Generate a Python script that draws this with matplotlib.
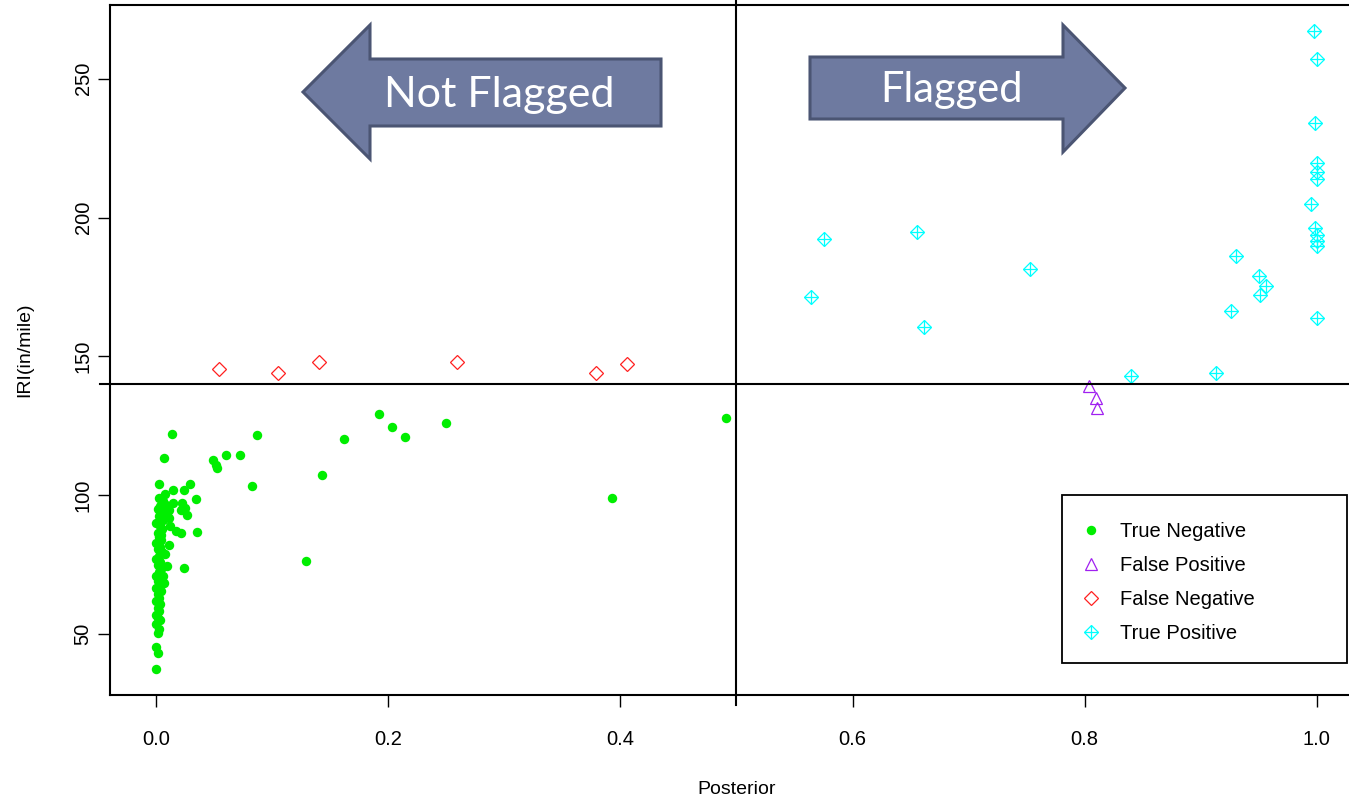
import matplotlib
matplotlib.use("Agg")
import matplotlib.pyplot as plt
from matplotlib.patches import Polygon, Rectangle
from matplotlib.lines import Line2D

plt.rcParams['font.family'] = ['Liberation Sans', 'DejaVu Sans']

# True Negative (posterior, IRI)
tn_post = [0.0135, 0.0069, 0.049, 0.051, 0.052, 0.060, 0.072, 0.082, 0.0866, 0.1617,
           0.192, 0.203, 0.2144, 0.250, 0.491, 0.1424, 0.3923, 0.129, 0.035, 0.0238,
           0.034, 0.029, 0.024, 0.025, 0.022, 0.021, 0.026, 0.021, 0.0147, 0.0078,
           0.0026, 0.014, 0.011, 0.0055, 0.011, 0.017, 0.011, 0.0069, 0.004, 0.008,
           0.006, 0.012, 0.009, 0.004, 0.007, 0.009, 0.006,
           0.000, 0.001, 0.000, 0.001, 0.002, 0.000, 0.003, 0.001, 0.000, 0.002,
           0.001, 0.003, 0.000, 0.002, 0.001, 0.004, 0.000, 0.002, 0.001, 0.003,
           0.000, 0.002, 0.004, 0.001, 0.003, 0.000, 0.002, 0.005, 0.001, 0.003,
           0.000, 0.004, 0.002, 0.001, 0.005, 0.003, 0.000, 0.004, 0.002, 0.006,
           0.001, 0.003, 0.005, 0.002]
tn_iri = [121.9, 113.4, 112.8, 111.0, 109.8, 114.4, 114.4, 103.4, 121.8, 120.3,
          129.4, 124.5, 120.9, 125.9, 127.9, 107.4, 99.0, 76.5, 86.9, 74.0,
          98.5, 104.0, 102.0, 95.4, 97.2, 94.8, 93.0, 86.6, 102.0, 100.5,
          104.2, 97.2, 94.8, 91.2, 91.9, 87.0, 82.1, 68.3, 85.7, 96.5,
          98.0, 89.0, 93.5, 88.0, 79.0, 74.5, 71.0,
          37.3, 43.2, 45.4, 50.5, 52.0, 53.5, 55.0, 56.0, 57.0, 58.5,
          59.5, 61.0, 62.0, 63.0, 64.5, 65.5, 66.5, 67.5, 69.0, 70.0,
          71.0, 72.5, 73.5, 75.0, 76.0, 77.0, 78.0, 79.5, 80.5, 81.5,
          83.0, 84.0, 85.0, 86.5, 88.0, 89.0, 90.0, 91.5, 92.5, 93.5,
          95.0, 96.0, 97.5, 99.0]

# False Positive
fp_post = [0.804, 0.810, 0.811]
fp_iri = [139.5, 135.2, 131.6]

# False Negative
fn_post = [0.0543, 0.105, 0.140, 0.2595, 0.379, 0.406]
fn_iri = [145.3, 143.9, 147.8, 147.8, 144.2, 147.1]

# True Positive
tp_post = [0.5638, 0.575, 0.656, 0.662, 0.7534, 0.8397, 0.9135, 0.9307, 0.926,
           0.950, 0.956, 0.951, 0.998, 1.000, 0.999, 1.000, 1.000, 1.000, 0.995,
           0.999, 1.000, 1.000, 1.000, 1.000]
tp_iri = [171.3, 192.2, 194.8, 160.5, 181.4, 143.1, 144.1, 186.0, 166.4,
          179.0, 175.2, 172.0, 267.3, 256.9, 234.1, 219.7, 216.4, 213.7, 205.0,
          196.2, 193.6, 191.6, 189.6, 164.0]

x_ticks = [0.0, 0.2, 0.4, 0.6, 0.8, 1.0]
x_ticklabels = ['0.0', '0.2', '0.4', '0.6', '0.8', '1.0']
y_ticks = [50, 100, 150, 200, 250]
cutoff_post = 0.5
cutoff_iri = 140

W, H = 1349, 800
fig = plt.figure(figsize=(W / 100, H / 100), dpi=100)
ax = fig.add_axes([110 / W, 105 / H, 1253 / W, 690 / H])

green = '#00ee00'
purple = '#a020f0'
red = '#ff2020'
cyan = '#00ffff'

ax.plot(tn_post, tn_iri, 'o', color=green, ms=6.8, mew=0, ls='none')
ax.plot(fp_post, fp_iri, '^', mfc='none', mec=purple, ms=9, mew=0.9, ls='none')
ax.plot(fn_post, fn_iri, 'D', mfc='none', mec=red, ms=7, mew=0.9, ls='none')
ax.plot(tp_post, tp_iri, 'D', mfc='none', mec=cyan, ms=7, mew=0.9, ls='none')
ax.plot(tp_post, tp_iri, '+', color=cyan, ms=10, mew=0.9, ls='none')

ax.margins(x=0.04, y=0.04)

ax.axhline(cutoff_iri, xmin=-0.008, xmax=1, color='black', lw=1.5, clip_on=False)
ax.axvline(cutoff_post, ymin=-0.015, ymax=1.01, color='black', lw=1.5, clip_on=False)

for s in ax.spines.values():
    s.set_linewidth(1.5)

ax.set_xticks(x_ticks)
ax.set_xticklabels(x_ticklabels)
ax.set_yticks(y_ticks)
ax.tick_params(axis='both', direction='out', length=8.5, width=1, labelsize=14.5)
ax.tick_params(axis='x', pad=17)
ax.tick_params(axis='y', pad=4)
for lab in ax.get_yticklabels():
    lab.set_rotation(90)
    lab.set_va('center')

fig.text(737 / W, 1 - 790 / H, 'Posterior', ha='center', va='center', fontsize=14)
fig.text(25 / W, 1 - 350 / H, 'IRI(in/mile)', ha='center', va='center',
         rotation=90, fontsize=14)

# legend with manual frame
fig.patches.append(Rectangle((1062 / W, 1 - 663 / H), 285 / W, 168 / H,
                             transform=fig.transFigure, fill=False,
                             edgecolor='black', lw=1.3))
handles = [
    Line2D([], [], marker='o', color=green, ms=6.8, mew=0, ls='none'),
    Line2D([], [], marker='^', mfc='none', mec=purple, ms=9, mew=0.9, ls='none'),
    Line2D([], [], marker='D', mfc='none', mec=red, ms=7, mew=0.9, ls='none'),
    (Line2D([], [], marker='D', mfc='none', mec=cyan, ms=7, mew=0.9, ls='none'),
     Line2D([], [], marker='+', color=cyan, ms=10, mew=0.9, ls='none')),
]
labels = ['True Negative', 'False Positive', 'False Negative', 'True Positive']
fig.legend(handles, labels, loc='upper left',
           bbox_to_anchor=(1079 / W, 1 - 522 / H), bbox_transform=fig.transFigure,
           frameon=False, fontsize=14.5, handlelength=1.2, handletextpad=0.85,
           labelspacing=0.74, borderpad=0, borderaxespad=0)


def px_poly(pts):
    return [(x / W, 1 - y / H) for x, y in pts]


arrow_face = '#6e7aa0'
arrow_edge = '#4b5573'
left_arrow = [(303, 92), (370, 25), (370, 59), (661, 59), (661, 126), (370, 126), (370, 159)]
right_arrow = [(810, 57), (1063, 57), (1063, 25), (1125, 88), (1063, 152), (1063, 119), (810, 119)]
for pts in (left_arrow, right_arrow):
    fig.patches.append(Polygon(px_poly(pts), closed=True, transform=fig.transFigure,
                               facecolor=arrow_face, edgecolor=arrow_edge, lw=2.2))

fig.text(499 / W, 1 - 95 / H, 'Not Flagged', ha='center', va='center',
         color='white', fontsize=31, family='Lato')
fig.text(952 / W, 1 - 90 / H, 'Flagged', ha='center', va='center',
         color='white', fontsize=30, family='Lato')

fig.savefig('out.png', dpi=100)
